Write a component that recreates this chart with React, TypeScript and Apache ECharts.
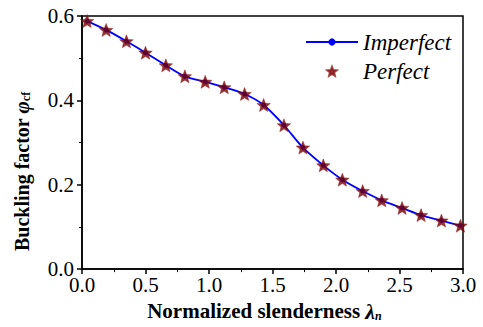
import React, { useEffect, useRef } from "react";
import * as echarts from "echarts";

const lambdaN = [0.04, 0.19, 0.35, 0.5, 0.66, 0.81, 0.97, 1.12, 1.28, 1.43, 1.59, 1.74, 1.9, 2.05, 2.21, 2.36, 2.52, 2.67, 2.83, 2.98];
const imperfect = [0.588, 0.567, 0.54, 0.513, 0.483, 0.457, 0.444, 0.431, 0.415, 0.389, 0.341, 0.288, 0.246, 0.212, 0.185, 0.163, 0.145, 0.128, 0.115, 0.103];
const perfect = [0.588, 0.567, 0.54, 0.513, 0.483, 0.457, 0.444, 0.431, 0.415, 0.389, 0.341, 0.288, 0.246, 0.212, 0.185, 0.163, 0.145, 0.128, 0.115, 0.103];
const seriesNames = ["Imperfect", "Perfect"];

const STAR = "path://M50 0 L62.93 32.2 L97.55 34.55 L70.92 56.8 L79.39 90.45 L50 72 L20.61 90.45 L29.08 56.8 L2.45 34.55 L37.07 32.2 Z";
const FONT = "Liberation Serif";

export default function App() {
  const ref = useRef<HTMLDivElement>(null);
  useEffect(() => {
    if (!ref.current) return;
    const chart = echarts.init(ref.current, undefined, { renderer: "svg" });
    chart.setOption({
      animation: false,
      backgroundColor: "#fff",
      textStyle: { fontFamily: FONT },
      grid: { left: 82, width: 381, top: 16, height: 256.5, show: true, borderColor: "#000", borderWidth: 1.5 },
      legend: {
        orient: "vertical",
        left: 300,
        top: 25.5,
        itemWidth: 52,
        itemHeight: 9,
        itemGap: 6.3,
        data: seriesNames,
        textStyle: { fontFamily: FONT, fontSize: 23, fontStyle: "italic", color: "#000", lineHeight: 23 },
      },
      xAxis: {
        type: "value",
        min: 0,
        max: 3,
        interval: 0.5,
        splitLine: { show: false },
        axisLine: { onZero: false, lineStyle: { color: "#000", width: 1.5 } },
        axisTick: { show: true, inside: false, length: 5, lineStyle: { color: "#000", width: 1.5 } },
        minorTick: { show: true, splitNumber: 2, length: 3, lineStyle: { color: "#000", width: 1 } },
        axisLabel: { fontFamily: FONT, fontSize: 21, color: "#000", margin: 5, formatter: (v: number) => v.toFixed(1) },
        name: "{b|Normalized slenderness }{bi|λ}{sub|n}",
        nameLocation: "middle",
        nameGap: 26,
        nameTextStyle: {
          padding: [0, 16, 0, 0],
          rich: {
            b: { fontFamily: FONT, fontSize: 21, fontWeight: "bold", color: "#000" },
            bi: { fontFamily: FONT, fontSize: 22, fontWeight: "bold", fontStyle: "italic", color: "#000" },
            sub: { fontFamily: FONT, fontSize: 12, fontWeight: "bold", fontStyle: "italic", color: "#000", verticalAlign: "bottom", padding: [9, 0, 0, 0] },
          },
        },
      },
      yAxis: {
        type: "value",
        min: 0,
        max: 0.6,
        interval: 0.2,
        splitLine: { show: false },
        axisLine: { lineStyle: { color: "#000", width: 1.5 } },
        axisTick: { show: true, inside: false, length: 5, lineStyle: { color: "#000", width: 1.5 } },
        minorTick: { show: true, splitNumber: 2, length: 3, lineStyle: { color: "#000", width: 1 } },
        axisLabel: { fontFamily: FONT, fontSize: 21, color: "#000", margin: 8, formatter: (v: number) => v.toFixed(1) },
        name: "{b|Buckling factor }{bi|φ}{sub|cf}",
        nameLocation: "middle",
        nameGap: 50,
        nameTextStyle: {
          padding: [0, 58, 0, 0],
          rich: {
            b: { fontFamily: FONT, fontSize: 20, fontWeight: "bold", color: "#000" },
            bi: { fontFamily: FONT, fontSize: 21, fontWeight: "bold", fontStyle: "italic", color: "#000" },
            sub: { fontFamily: FONT, fontSize: 12, fontWeight: "bold", color: "#000", verticalAlign: "bottom", padding: [8, 0, 0, 0] },
          },
        },
      },
      series: [
        {
          name: seriesNames[0],
          type: "line",
          smooth: 0.3,
          data: lambdaN.map((x, i) => [x, imperfect[i]]),
          symbol: "circle",
          symbolSize: 5,
          itemStyle: { color: "#0000ff" },
          lineStyle: { color: "#0000ff", width: 1.8 },
          z: 2,
        },
        {
          name: seriesNames[1],
          type: "scatter",
          data: lambdaN.map((x, i) => [x, perfect[i]]),
          symbol: STAR,
          symbolSize: [13.5, 13],
          itemStyle: { color: "#780000", borderColor: "#8b1a1a", borderWidth: 0.5 },
          z: 3,
        },
      ],
    });
    return () => chart.dispose();
  }, []);
  return <div ref={ref} style={{ position: "fixed", left: 0, top: 0, width: 483, height: 327 }} />;
}
